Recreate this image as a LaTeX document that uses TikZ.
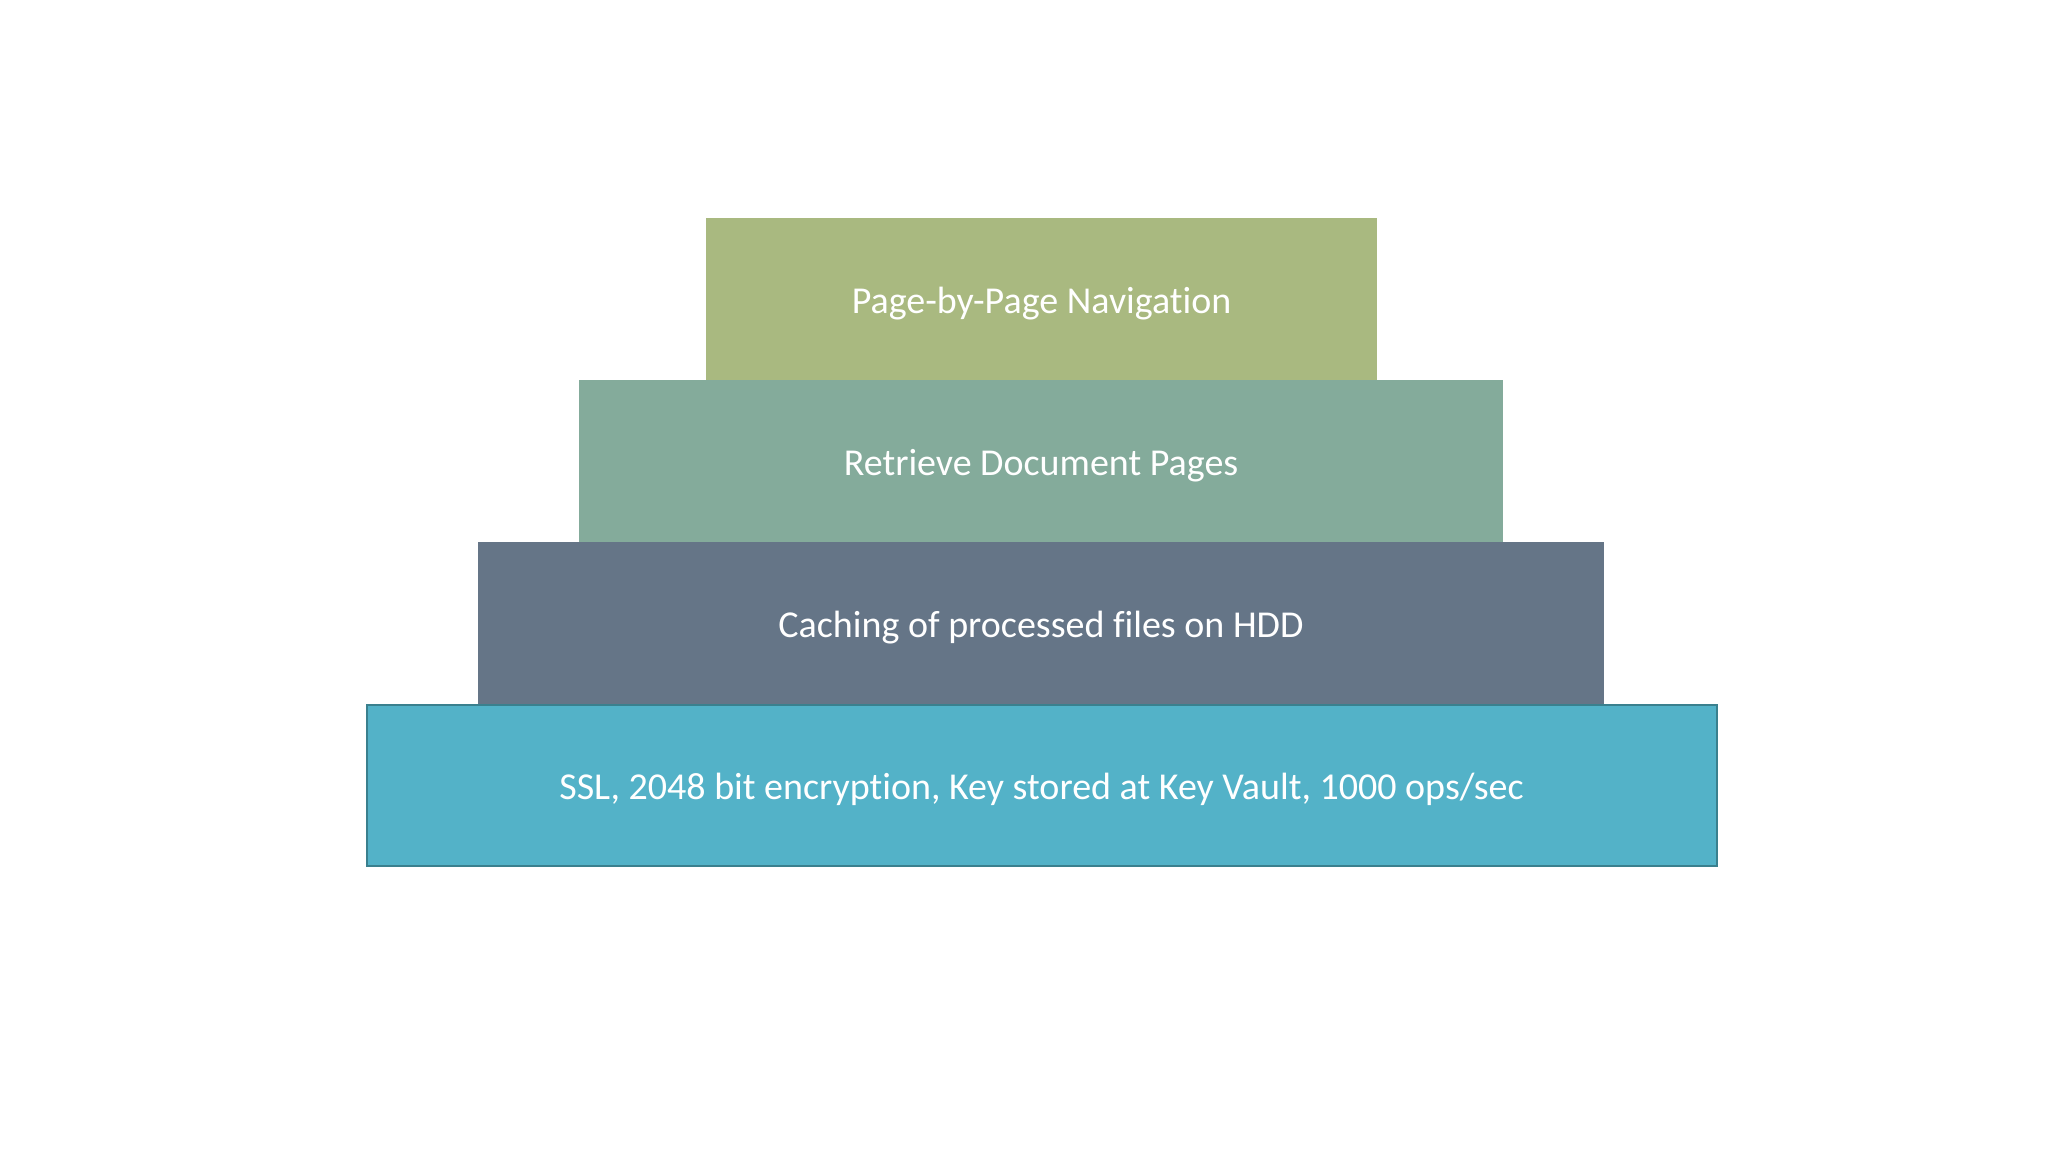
\documentclass[tikz,border=0pt]{standalone}
\usepackage{fontspec}
\setmainfont{Carlito}[Ligatures=NoCommon]
\definecolor{lvlA}{RGB}{169,185,128}
\definecolor{lvlB}{RGB}{132,171,155}
\definecolor{lvlC}{RGB}{101,117,135}
\definecolor{lvlD}{RGB}{83,178,200}
\definecolor{lvlDborder}{RGB}{58,128,142}
\begin{document}
\begin{tikzpicture}[x=1pt,y=1pt,
  layer/.style={rectangle, inner sep=0pt, outer sep=0pt, minimum height=162pt,
    text height=28pt, text depth=0pt,
    text=white, font=\fontsize{38}{44}\selectfont, draw=none}]
\useasboundingbox[fill=white] (0,0) rectangle (2048,-1152);
\node[layer, fill=lvlA, minimum width=671pt] (nav) at (1041.5,-299) {Page-by-Page Navigation};
\node[layer, fill=lvlB, minimum width=924pt] (ret) at (1041,-461) {Retrieve Document Pages};
\node[layer, fill=lvlC, minimum width=1126pt] (cache) at (1041,-623) {Caching of processed files on HDD};
\node[layer, fill=lvlD, draw=lvlDborder, line width=2pt, minimum width=1350pt, minimum height=161pt] (ssl) at (1041.5,-785) {SSL, 2048 bit encryption, Key stored at Key Vault, 1000 ops/sec};
\end{tikzpicture}
\end{document}
